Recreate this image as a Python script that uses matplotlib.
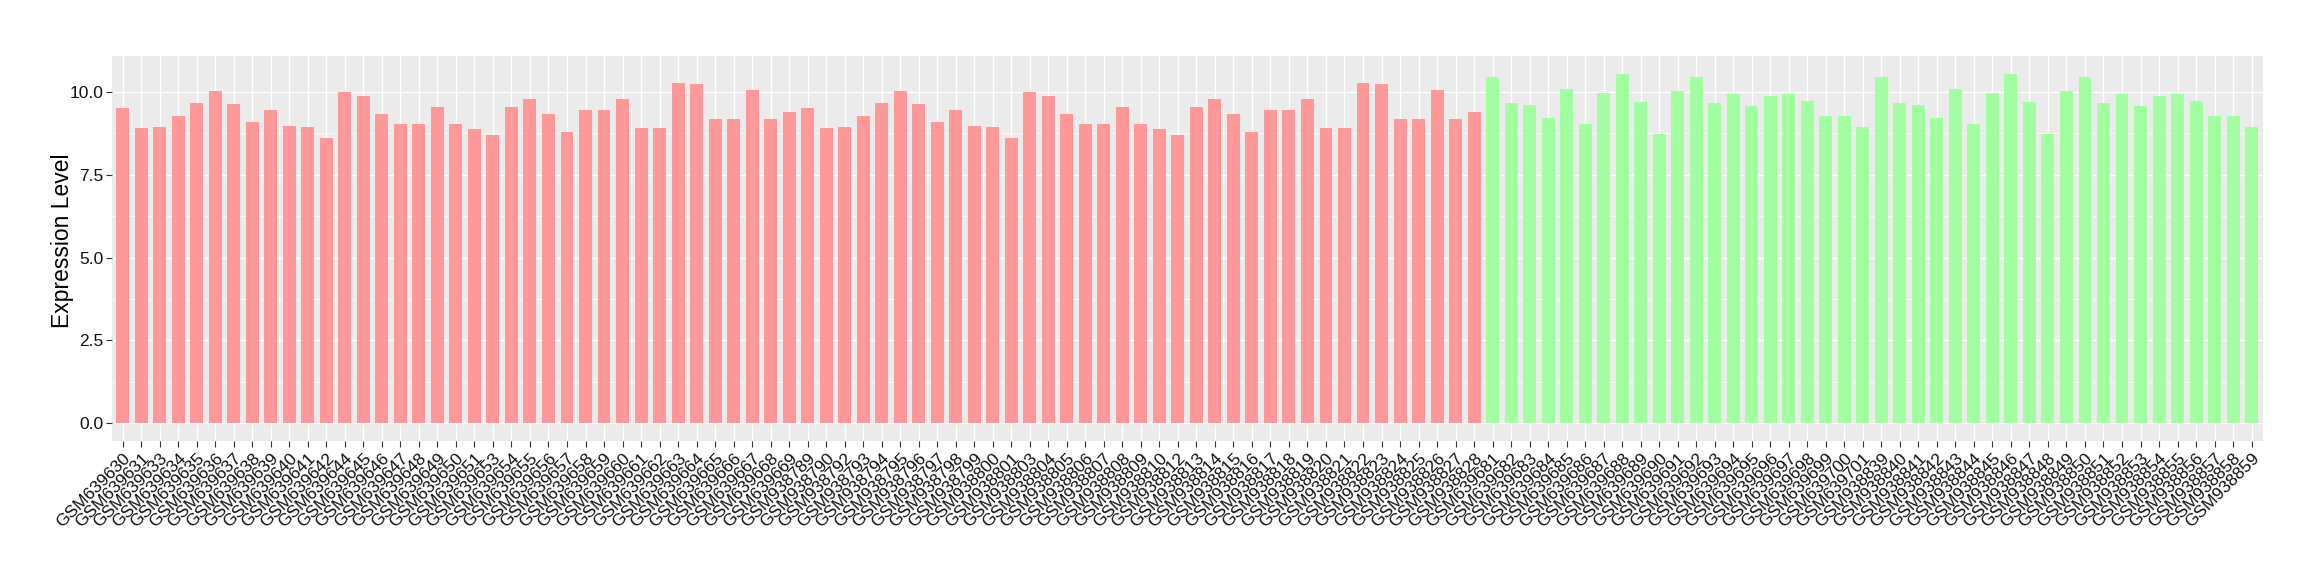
import numpy as np
import matplotlib
matplotlib.use('Agg')
import matplotlib.pyplot as plt
from matplotlib.ticker import MultipleLocator

plt.rcParams['font.family'] = ['Liberation Sans', 'DejaVu Sans']

# sample ids, in plotting order
group1_samples = [
    'GSM639630', 'GSM639631', 'GSM639633', 'GSM639634', 'GSM639635', 'GSM639636',
    'GSM639637', 'GSM639638', 'GSM639639', 'GSM639640', 'GSM639641', 'GSM639642',
    'GSM639644', 'GSM639645', 'GSM639646', 'GSM639647', 'GSM639648', 'GSM639649',
    'GSM639650', 'GSM639651', 'GSM639653', 'GSM639654', 'GSM639655', 'GSM639656',
    'GSM639657', 'GSM639658', 'GSM639659', 'GSM639660', 'GSM639661', 'GSM639662',
    'GSM639663', 'GSM639664', 'GSM639665', 'GSM639666', 'GSM639667', 'GSM639668',
    'GSM639669', 'GSM938789', 'GSM938790', 'GSM938792', 'GSM938793', 'GSM938794',
    'GSM938795', 'GSM938796', 'GSM938797', 'GSM938798', 'GSM938799', 'GSM938800',
    'GSM938801', 'GSM938803', 'GSM938804', 'GSM938805', 'GSM938806', 'GSM938807',
    'GSM938808', 'GSM938809', 'GSM938810', 'GSM938812', 'GSM938813', 'GSM938814',
    'GSM938815', 'GSM938816', 'GSM938817', 'GSM938818', 'GSM938819', 'GSM938820',
    'GSM938821', 'GSM938822', 'GSM938823', 'GSM938824', 'GSM938825', 'GSM938826',
    'GSM938827', 'GSM938828',
]
group2_samples = [
    'GSM639681', 'GSM639682', 'GSM639683', 'GSM639684', 'GSM639685', 'GSM639686',
    'GSM639687', 'GSM639688', 'GSM639689', 'GSM639690', 'GSM639691', 'GSM639692',
    'GSM639693', 'GSM639694', 'GSM639695', 'GSM639696', 'GSM639697', 'GSM639698',
    'GSM639699', 'GSM639700', 'GSM639701', 'GSM938839', 'GSM938840', 'GSM938841',
    'GSM938842', 'GSM938843', 'GSM938844', 'GSM938845', 'GSM938846', 'GSM938847',
    'GSM938848', 'GSM938849', 'GSM938850', 'GSM938851', 'GSM938852', 'GSM938853',
    'GSM938854', 'GSM938855', 'GSM938856', 'GSM938857', 'GSM938858', 'GSM938859',
]

group1_values = [
    9.51, 8.90, 8.93, 9.29, 9.67, 10.02, 9.64, 9.11, 9.45, 8.96, 8.93, 8.60,
    9.99, 9.87, 9.35, 9.02, 9.05, 9.54, 9.05, 8.87, 8.69, 9.54, 9.78, 9.35,
    8.78, 9.45, 9.45, 9.78, 8.90, 8.90, 10.26, 10.23, 9.20, 9.20, 10.05, 9.20,
    9.39, 9.51, 8.90, 8.93, 9.29, 9.66, 10.02, 9.63, 9.11, 9.45, 8.96, 8.93,
    8.60, 9.99, 9.87, 9.35, 9.02, 9.05, 9.54, 9.05, 8.87, 8.69, 9.54, 9.78,
    9.35, 8.78, 9.45, 9.45, 9.78, 8.90, 8.90, 10.26, 10.23, 9.20, 9.20, 10.05,
    9.20, 9.39,
]
group2_values = [
    10.44, 9.66, 9.60, 9.23, 10.08, 9.05, 9.96, 10.56, 9.69, 8.72, 10.02, 10.44,
    9.66, 9.93, 9.57, 9.87, 9.93, 9.72, 9.29, 9.29, 8.93, 10.44, 9.66, 9.60,
    9.23, 10.08, 9.05, 9.96, 10.56, 9.69, 8.72, 10.02, 10.44, 9.66, 9.93, 9.57,
    9.87, 9.93, 9.72, 9.29, 9.29, 8.93,
]

group_colors = ['#FF9999', '#A1FFA1']

samples = group1_samples + group2_samples
values = group1_values + group2_values
colors = [group_colors[0]] * len(group1_samples) + [group_colors[1]] * len(group2_samples)

fig = plt.figure(figsize=(23.2, 5.8), dpi=100)
ax = fig.add_axes([0.0481, 0.2403, 0.9272, 0.6631])
ax.set_facecolor('#EBEBEB')

X = np.arange(len(samples))
ax.bar(X, values, width=0.7, color=colors, zorder=2)

vmax = max(values)
ax.set_ylim(-0.05 * vmax, 1.05 * vmax)
ax.set_xlim(-0.6, len(samples) - 1 + 0.6)

ax.yaxis.set_minor_locator(MultipleLocator(1.25))
ax.set_yticks([0, 2.5, 5, 7.5, 10])
ax.set_yticklabels(['0.0', '2.5', '5.0', '7.5', '10.0'])
ax.set_xticks(X)
ax.set_xticklabels(samples, rotation=45, ha='right', va='top',
                   rotation_mode='anchor', fontsize=12.5, color='#111111')

ax.grid(True, which='major', color='white', linewidth=1.0, zorder=0)
ax.grid(True, which='minor', axis='y', color='white', linewidth=0.5, zorder=0)
ax.set_axisbelow(True)

for side in ['top', 'right', 'bottom', 'left']:
    ax.spines[side].set_visible(False)

ax.tick_params(axis='both', which='major', length=4, width=0.8, color='#333333')
ax.tick_params(axis='y', which='minor', length=0)
ax.tick_params(axis='y', labelsize=12.5, labelcolor='#111111', pad=2)
ax.tick_params(axis='x', pad=3)

ax.set_ylabel('Expression Level', fontsize=16.5, color='black')
ax.yaxis.set_label_coords(-0.0175, 0.52)

fig.savefig('out.png', dpi=100)
